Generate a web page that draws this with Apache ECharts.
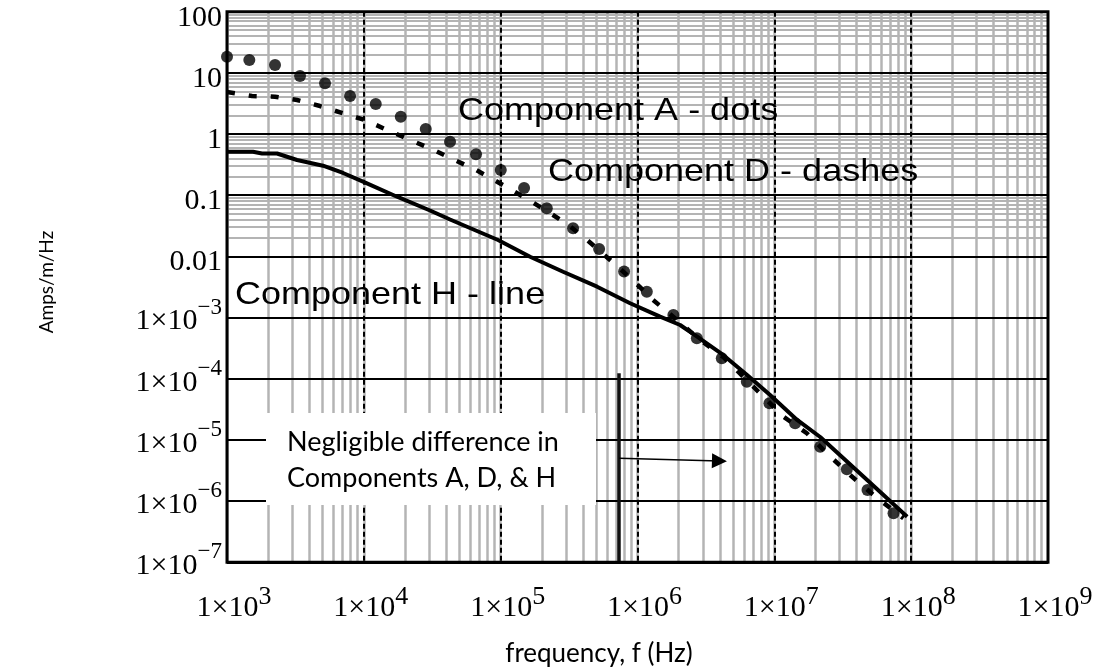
<!DOCTYPE html>
<html><head><meta charset="utf-8">
<script src="https://cdn.jsdelivr.net/npm/echarts@6/dist/echarts.min.js"></script>
<style>html,body{margin:0;padding:0;background:#fff}#c{width:1098px;height:672px}</style>
</head><body><div id="c"></div>
<script>
// ---- tick labels ----
const xTickLabels = ['1×10^3','1×10^4','1×10^5','1×10^6','1×10^7','1×10^8','1×10^9'];
const yTickLabels = ['1×10^−7','1×10^−6','1×10^−5','1×10^−4','1×10^−3','0.01','0.1','1','10','100'];

// ---- Component H (solid line) ----
const hFreq = [1000, 1549, 1803, 2321, 3250, 5032, 7047, 9863, 17480, 30480, 42660, 95700, 164000, 285800, 506700, 883000, 1.463e6, 2.048e6, 2.728e6, 4.226e6, 6.324e6, 9.31e6, 1.468e7, 2.163e7, 4.768e7, 9.35e7];
const hAmp  = [0.515, 0.515, 0.481, 0.481, 0.377, 0.304, 0.231, 0.1665, 0.0946, 0.0563, 0.0401, 0.01854, 0.00989, 0.00562, 0.0032, 0.001714, 1.035e-3, 7.57e-4, 4.87e-4, 2.45e-4, 1.153e-4, 5.43e-5, 2.12e-5, 1.117e-5, 2.22e-6, 5.57e-7];

// ---- Component A (dots) ----
const aFreq = [1000, 1456, 2244, 3418, 5204, 7931, 12220, 18620, 28350, 42660, 66070, 100200, 148300, 217300, 338200, 524100, 798300, 1.170e6, 1.829e6, 2.715e6, 4.130e6, 6.295e6, 9.21e6, 1.419e7, 2.163e7, 3.388e7, 4.795e7, 7.43e7];
const aAmp  = [18.4, 16.3, 13.45, 8.89, 6.76, 4.19, 3.10, 1.923, 1.21, 0.75, 0.467, 0.259, 0.1313, 0.0612, 0.02884, 0.01321, 0.00567, 0.00265, 1.10e-3, 4.59e-4, 2.16e-4, 8.96e-5, 3.97e-5, 1.87e-5, 7.76e-6, 3.31e-6, 1.52e-6, 6.32e-7];

// ---- Component D (dashes) ----
const dFreq = [1000, 1523, 2244, 3250, 4786, 7047, 10200, 14790, 21040, 31520, 44870, 66070, 95700, 143300, 211300, 305600, 428400, 630700, 928700, 1.300e6, 1.946e6, 2.87e6, 4.226e6, 7.87e6, 1.166e7, 1.729e7, 2.42e7, 3.58e7, 5.30e7, 8.79e7];
const dAmp  = [4.87, 4.19, 4.08, 3.60, 2.87, 2.18, 1.70, 1.165, 0.83, 0.564, 0.387, 0.259, 0.163, 0.0972, 0.0574, 0.0339, 0.01853, 0.00875, 0.00404, 1.94e-3, 9.14e-4, 4.31e-4, 2.27e-4, 5.79e-5, 2.40e-5, 1.285e-5, 6.05e-6, 2.67e-6, 1.26e-6, 5.24e-7];

// ---- annotation (vertical marker and arrow) ----
const markerFreq = [7.34e5, 7.34e5];
const markerAmp  = [1.23e-4, 1e-7];
const arrowFreq  = [7.34e5, 3.97e6];
const arrowAmp   = [5.01e-6, 4.53e-6];

const zip = (a, b) => a.map((v, i) => [v, b[i]]);

function rich(str) {
  const i = str.indexOf('^');
  if (i < 0) return '{p|' + str + '}';
  return '{b|' + str.slice(0, i) + '}{s|' + str.slice(i + 1) + '}';
}

// minor grid lines (2..9 per decade)
const GRAY = '#b4b4b4';
const minorLines = [];
for (let e = 3; e < 9; e++) for (let k = 1; k <= 9; k++)
  minorLines.push({ xAxis: k * Math.pow(10, e), lineStyle: { color: GRAY, width: 2.5, type: 'solid' } });
for (let e = -7; e < 2; e++) for (let k = 2; k <= 9; k++)
  minorLines.push({ yAxis: k * Math.pow(10, e), lineStyle: { color: GRAY, width: 2, type: 'solid' } });

const serif = 'Liberation Serif';
const chart = echarts.init(document.getElementById('c'), null, { renderer: 'canvas' });
chart.setOption({
  animation: false,
  backgroundColor: '#fff',
  grid: { left: 227, top: 11.7, right: 50, bottom: 109.7, show: true, z: 10,
          borderColor: '#000', borderWidth: 3, backgroundColor: 'transparent' },
  xAxis: {
    type: 'log', logBase: 10, min: 1e3, max: 1e9, splitNumber: 6, z: 3,
    axisLine: { show: false }, axisTick: { show: false },
    splitLine: { show: true, lineStyle: { color: '#000', width: 2, type: [5, 3] } },
    axisLabel: {
      margin: 22,
      formatter: v => rich(xTickLabels[Math.round(Math.log10(v)) - 3]),
      rich: {
        b: { fontFamily: serif, fontSize: 30, color: '#000', padding: [0, 0, 0, 14] },
        s: { fontFamily: serif, fontSize: 26, color: '#000', padding: [0, 0, 22, 0] }
      }
    }
  },
  yAxis: {
    type: 'log', logBase: 10, min: 1e-7, max: 100, splitNumber: 9, z: 3,
    axisLine: { show: false }, axisTick: { show: false },
    splitLine: { show: true, lineStyle: { color: '#000', width: 2, type: 'solid' } },
    axisLabel: {
      margin: 5,
      formatter: v => rich(yTickLabels[Math.round(Math.log10(v)) + 7]),
      rich: {
        p: { fontFamily: serif, fontSize: 30, color: '#000', padding: [12, 0, 0, 0] },
        b: { fontFamily: serif, fontSize: 30, color: '#000', padding: [8, 0, 0, 0] },
        s: { fontFamily: serif, fontSize: 23, color: '#000', padding: [0, 0, 20, 0] }
      }
    }
  },
  series: [
    {
      name: 'minor-grid', type: 'line', z: 1, data: [[1e3, 1e-7]], showSymbol: false,
      lineStyle: { opacity: 0 }, silent: true,
      markLine: { z: 1, silent: true, symbol: ['none', 'none'], label: { show: false }, animation: false,
                  emphasis: { disabled: true }, data: minorLines }
    },
    {
      name: 'Component H', type: 'line', z: 5, data: zip(hFreq, hAmp), showSymbol: false,
      lineStyle: { color: '#000', width: 4 }, silent: true
    },
    {
      name: 'Component D', type: 'line', z: 5, data: zip(dFreq, dAmp), showSymbol: false,
      lineStyle: { color: '#000', width: 4.5, type: [8, 14] }, silent: true
    },
    {
      name: 'Component A', type: 'scatter', z: 6, data: zip(aFreq, aAmp), symbol: 'circle',
      symbolSize: 12, itemStyle: { color: '#000' }, silent: true
    },
    {
      name: 'annotation', type: 'line', z: 6, data: [[1e3, 1e-7]], showSymbol: false,
      lineStyle: { opacity: 0 }, silent: true,
      markLine: {
        z: 7, silent: true, symbol: ['none', 'none'], label: { show: false }, animation: false,
        emphasis: { disabled: true },
        data: [
          [{ coord: [markerFreq[0], markerAmp[0]], lineStyle: { color: '#111', width: 3.5, type: 'solid' } },
           { coord: [markerFreq[1], markerAmp[1]] }],
          [{ coord: [arrowFreq[0], arrowAmp[0]], lineStyle: { color: '#000', width: 1.5, type: 'solid' } },
           { coord: [arrowFreq[1], arrowAmp[1]], symbol: 'triangle', symbolSize: 15 }]
        ]
      }
    }
  ],
  graphic: [
    { type: 'text', x: 458, y: 111, scaleX: 1.125, z: 20,
      style: { text: 'Component A - dots', fontFamily: 'Liberation Sans', fontSize: 32, fill: '#000', align: 'left', verticalAlign: 'middle' } },
    { type: 'text', x: 548, y: 172, scaleX: 1.125, z: 20,
      style: { text: 'Component D - dashes', fontFamily: 'Liberation Sans', fontSize: 32, fill: '#000', align: 'left', verticalAlign: 'middle' } },
    { type: 'text', x: 235, y: 295, scaleX: 1.125, z: 20,
      style: { text: 'Component H - line', fontFamily: 'Liberation Sans', fontSize: 32, fill: '#000', align: 'left', verticalAlign: 'middle' } },
    { type: 'rect', z: 20, shape: { x: 266, y: 413, width: 330, height: 92 }, style: { fill: '#fff' } },
    { type: 'text', x: 287, y: 442, z: 21,
      style: { text: 'Negligible difference in', fontFamily: 'Lato', fontSize: 27, fill: '#000', align: 'left', verticalAlign: 'middle' } },
    { type: 'text', x: 287, y: 478, z: 21,
      style: { text: 'Components A, D, & H', fontFamily: 'Lato', fontSize: 27, fill: '#000', align: 'left', verticalAlign: 'middle' } },
    { type: 'text', x: 599, y: 654, z: 21,
      style: { text: 'frequency, f (Hz)', fontFamily: 'Lato', fontSize: 26, fill: '#000', align: 'center', verticalAlign: 'middle' } },
    { type: 'text', x: 47, y: 282, rotation: Math.PI / 2, z: 21,
      style: { text: 'Amps/m/Hz', fontFamily: 'Lato', fontSize: 19, fill: '#000', align: 'center', verticalAlign: 'middle' } }
  ]
});
</script>
</body></html>
